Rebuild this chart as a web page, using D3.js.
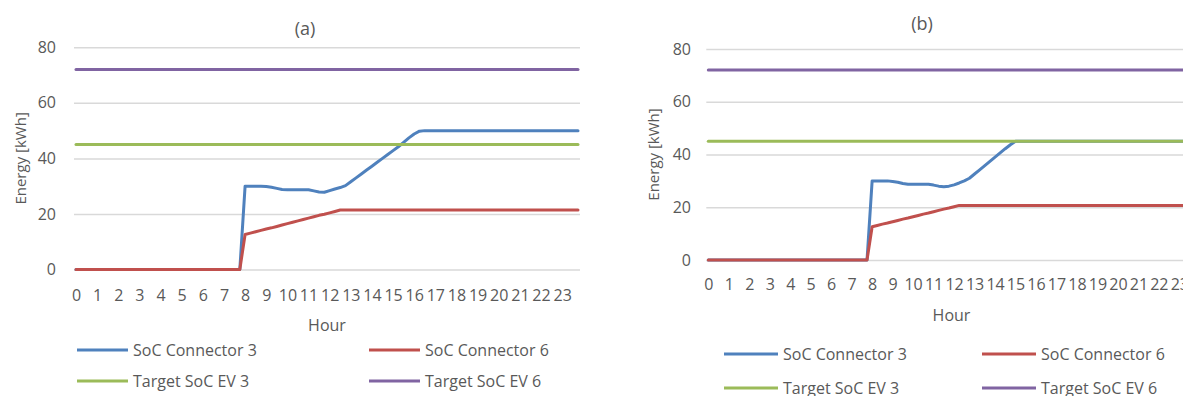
<!DOCTYPE html>
<html>
<head>
<meta charset="utf-8">
<script src="https://cdn.jsdelivr.net/npm/d3@7"></script>
<style>
  body { margin: 0; background: #fff; }
  svg text { font-family: "Open Sans", "Liberation Sans", sans-serif; fill: #595959; }
</style>
</head>
<body>
<script>
// 15-minute slots, 0 .. 95 ; labels shown every hour
let hourLabels = ["0","1","2","3","4","5","6","7","8","9","10","11","12","13","14","15","16","17","18","19","20","21","22","23"];
let yTicks = [0, 20, 40, 60, 80];
let seriesNames = ["SoC Connector 3", "SoC Connector 6", "Target SoC EV 3", "Target SoC EV 6"];
let seriesColors = ["#4F81BD", "#C0504D", "#9BBB59", "#8064A2"];

// (a)
let socConn3A = [
  0,0,0,0,0,0,0,0,0,0,0,0,0,0,0,0,0,0,0,0,0,0,0,0,0,0,0,0,0,0,0,0,
  30.0,30.0,30.0,30.0,29.9,29.6,29.2,28.8,28.7,28.7,28.7,28.7,28.7,28.3,27.9,27.8,
  28.4,29.0,29.5,30.2,31.6,33.0,34.4,35.8,37.2,38.6,40.0,41.4,42.8,44.2,45.8,47.4,
  48.8,49.8,50,50,50,50,50,50,50,50,50,50,50,50,50,50,
  50,50,50,50,50,50,50,50,50,50,50,50,50,50,50,50
];
let socConn6A = [
  0,0,0,0,0,0,0,0,0,0,0,0,0,0,0,0,0,0,0,0,0,0,0,0,0,0,0,0,0,0,0,0,
  12.6,13.1,13.6,14.1,14.6,15.0,15.5,16.0,16.5,17.0,17.5,18.0,18.5,19.0,19.5,19.9,
  20.4,20.9,21.4,21.4,21.4,21.4,21.4,21.4,21.4,21.4,21.4,21.4,21.4,21.4,21.4,21.4,
  21.4,21.4,21.4,21.4,21.4,21.4,21.4,21.4,21.4,21.4,21.4,21.4,21.4,21.4,21.4,21.4,
  21.4,21.4,21.4,21.4,21.4,21.4,21.4,21.4,21.4,21.4,21.4,21.4,21.4,21.4,21.4,21.4
];
let targetEV3A = 45;
let targetEV6A = 72;

// (b)
let socConn3B = [
  0,0,0,0,0,0,0,0,0,0,0,0,0,0,0,0,0,0,0,0,0,0,0,0,0,0,0,0,0,0,0,0,
  30.0,30.0,30.0,30.0,29.8,29.5,29.0,28.7,28.7,28.7,28.7,28.7,28.4,28.0,27.8,28.0,
  28.5,29.2,30.0,31.0,32.6,34.2,35.8,37.4,39.0,40.6,42.2,43.7,45,45,45,45,
  45,45,45,45,45,45,45,45,45,45,45,45,45,45,45,45,
  45,45,45,45,45,45,45,45,45,45,45,45,45,45,45,45
];
let socConn6B = [
  0,0,0,0,0,0,0,0,0,0,0,0,0,0,0,0,0,0,0,0,0,0,0,0,0,0,0,0,0,0,0,0,
  12.6,13.1,13.6,14.0,14.5,15.0,15.5,15.9,16.4,16.9,17.4,17.8,18.3,18.8,19.3,19.7,
  20.2,20.7,20.7,20.7,20.7,20.7,20.7,20.7,20.7,20.7,20.7,20.7,20.7,20.7,20.7,20.7,
  20.7,20.7,20.7,20.7,20.7,20.7,20.7,20.7,20.7,20.7,20.7,20.7,20.7,20.7,20.7,20.7,
  20.7,20.7,20.7,20.7,20.7,20.7,20.7,20.7,20.7,20.7,20.7,20.7,20.7,20.7,20.7,20.7
];
let targetEV3B = 45;
let targetEV6B = 72;

let svg = d3.select("body").append("svg")
    .attr("width", 1183)
    .attr("height", 396);

function drawChart(opt) {
    let g = svg.append("g");
    let x = d3.scaleLinear().domain([0, 95]).range([opt.x0, opt.x1]);
    let y = d3.scaleLinear().domain([0, 80]).range([opt.y0, opt.y80]);

    // gridlines
    g.append("g")
        .attr("transform", "translate(" + (opt.x0 - 2) + ",0)")
        .call(d3.axisLeft(y).tickValues(yTicks).tickSize(-(opt.x1 - opt.x0 + 4)).tickFormat(""))
        .call(s => s.select(".domain").remove())
        .selectAll("line").attr("stroke", "#d9d9d9").attr("stroke-width", 1.5);

    // y labels
    g.append("g")
        .attr("transform", "translate(" + opt.yLabelX + ",0)")
        .call(d3.axisLeft(y).tickValues(yTicks).tickSize(0).tickPadding(0))
        .call(s => s.select(".domain").remove())
        .selectAll("text")
        .style("font-size", "16px")
        .attr("fill", "#595959");

    // x labels (every hour = every 4th slot)
    g.append("g")
        .attr("transform", "translate(0," + opt.xLabelY + ")")
        .call(d3.axisBottom(x)
            .tickValues(hourLabels.map((h, i) => i * 4))
            .tickFormat((d, i) => hourLabels[i])
            .tickSize(0).tickPadding(0))
        .call(s => s.select(".domain").remove())
        .selectAll("text")
        .attr("dy", "0.32em")
        .style("font-size", "16px")
        .attr("fill", "#595959");

    let line = d3.line()
        .x((d, i) => x(i))
        .y(d => y(d));

    let series = [
        opt.conn3,
        opt.conn6,
        opt.conn3.map(() => opt.ev3),
        opt.conn3.map(() => opt.ev6)
    ];
    series.forEach((s, k) => {
        g.append("path")
            .datum(s)
            .attr("fill", "none")
            .attr("stroke", seriesColors[k])
            .attr("stroke-width", 3)
            .attr("stroke-linejoin", "round")
            .attr("stroke-linecap", "round")
            .attr("d", line);
    });

    // title
    g.append("text")
        .attr("x", opt.titleX).attr("y", opt.titleY)
        .attr("text-anchor", "middle")
        .attr("dominant-baseline", "central")
        .style("font-size", "18px")
        .text(opt.title);

    // axis titles
    g.append("text")
        .attr("x", (opt.x0 + opt.x1) / 2).attr("y", opt.hourY)
        .attr("text-anchor", "middle")
        .attr("dominant-baseline", "central")
        .style("font-size", "16px")
        .text("Hour");
    g.append("text")
        .attr("transform", "translate(" + opt.energyX + "," + ((opt.y0 + opt.y80) / 2) + ") rotate(-90)")
        .attr("text-anchor", "middle")
        .attr("dominant-baseline", "central")
        .style("font-size", "15px")
        .text("Energy [kWh]");

    // legend, 2 x 2
    seriesNames.forEach((name, k) => {
        let lx = opt.legCols[k % 2];
        let ly = opt.legRows[Math.floor(k / 2)];
        g.append("line")
            .attr("x1", lx).attr("x2", lx + opt.legLen)
            .attr("y1", ly).attr("y2", ly)
            .attr("stroke", seriesColors[k])
            .attr("stroke-width", 3);
        g.append("text")
            .attr("x", lx + opt.legLen + 5).attr("y", ly)
            .attr("dominant-baseline", "central")
            .style("font-size", "16px")
            .text(name);
    });
}

drawChart({
    title: "(a)", titleX: 305, titleY: 28,
    x0: 76, x1: 578, y0: 269.5, y80: 47.3,
    yLabelX: 56, xLabelY: 296, hourY: 325, energyX: 20,
    legCols: [77, 369], legRows: [350, 381], legLen: 51,
    conn3: socConn3A, conn6: socConn6A, ev3: targetEV3A, ev6: targetEV6A
});

drawChart({
    title: "(b)", titleX: 922, titleY: 23,
    x0: 708.3, x1: 708.3 + 95 * 5.12, y0: 260, y80: 49,
    yLabelX: 691, xLabelY: 285, hourY: 315, energyX: 653,
    legCols: [724, 982], legRows: [354, 388], legLen: 54,
    conn3: socConn3B, conn6: socConn6B, ev3: targetEV3B, ev6: targetEV6B
});
</script>
</body>
</html>
